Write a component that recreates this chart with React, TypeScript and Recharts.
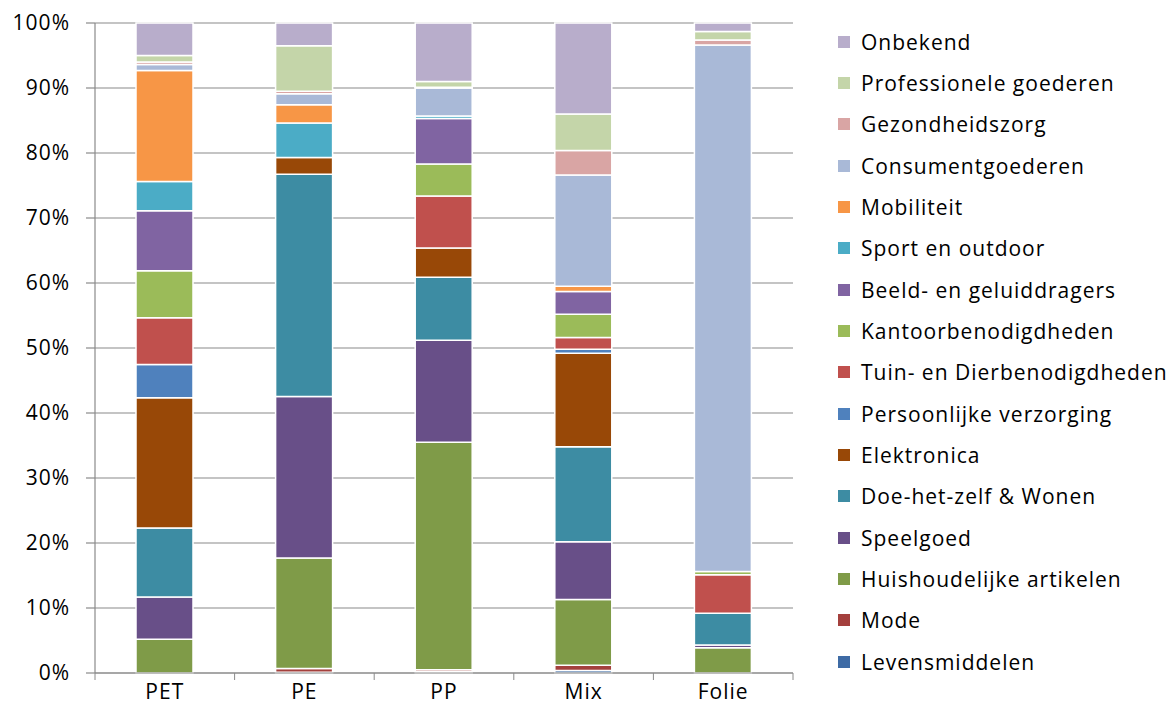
import React from 'react';
import { BarChart, Bar, XAxis, YAxis, CartesianGrid, Legend } from 'recharts';

// categories on the x axis
const categories = ['PET', 'PE', 'PP', 'Mix', 'Folie'];

// share per category (%), stacked bottom -> top
const levensmiddelen = [0, 0.1, 0.2, 0.4, 0];
const mode = [0, 0.6, 0.3, 0.8, 0];
const huishoudelijk = [5.2, 17.0, 35.0, 10.1, 3.9];
const speelgoed = [6.5, 24.85, 15.7, 8.9, 0.4];
const doeHetZelf = [10.6, 34.2, 9.7, 14.6, 4.9];
const elektronica = [20.05, 2.6, 4.5, 14.4, 0];
const persoonlijk = [5.1, 0, 0, 0.6, 0];
const tuinDier = [7.2, 0, 8.0, 1.8, 5.9];
const kantoor = [7.25, 0, 4.9, 3.6, 0.5];
const beeldGeluid = [9.2, 0, 7.0, 3.5, 0];
const sport = [4.5, 5.3, 0.4, 0, 0];
const mobiliteit = [17.1, 2.8, 0, 0.8, 0];
const consument = [0.9, 1.7, 4.3, 17.1, 81.0];
const gezondheid = [0.4, 0.4, 0.1, 3.8, 0.8];
const professioneel = [1.0, 7.0, 0.9, 5.6, 1.3];
const onbekend = [5.0, 3.5, 9.0, 14.0, 1.3];

const yTicks = [0, 0.1, 0.2, 0.3, 0.4, 0.5, 0.6, 0.7, 0.8, 0.9, 1];

const series = [
  { name: 'Levensmiddelen', values: levensmiddelen, color: '#3E6BA5' },
  { name: 'Mode', values: mode, color: '#A4403D' },
  { name: 'Huishoudelijke artikelen', values: huishoudelijk, color: '#7F9B48' },
  { name: 'Speelgoed', values: speelgoed, color: '#684F88' },
  { name: 'Doe-het-zelf & Wonen', values: doeHetZelf, color: '#3D8CA3' },
  { name: 'Elektronica', values: elektronica, color: '#984807' },
  { name: 'Persoonlijke verzorging', values: persoonlijk, color: '#4F81BD' },
  { name: 'Tuin- en Dierbenodigdheden', values: tuinDier, color: '#C0504D' },
  { name: 'Kantoorbenodigdheden', values: kantoor, color: '#9BBB59' },
  { name: 'Beeld- en geluiddragers', values: beeldGeluid, color: '#8064A2' },
  { name: 'Sport en outdoor', values: sport, color: '#4BACC6' },
  { name: 'Mobiliteit', values: mobiliteit, color: '#F79646' },
  { name: 'Consumentgoederen', values: consument, color: '#A9B9D7' },
  { name: 'Gezondheidszorg', values: gezondheid, color: '#D9A5A4' },
  { name: 'Professionele goederen', values: professioneel, color: '#C4D5A9' },
  { name: 'Onbekend', values: onbekend, color: '#B8ADCB' },
];

const data = categories.map((name, i) => {
  const row: Record<string, string | number> = { name };
  series.forEach((s) => {
    row[s.name] = s.values[i];
  });
  return row;
});

const W = 1173;
const H = 717;
const MARGIN = { top: 23, right: 380, bottom: 14, left: 10 };
const Y_WIDTH = 85;
const X_HEIGHT = 30;
const BAND = (W - MARGIN.left - Y_WIDTH - MARGIN.right) / categories.length;
const FONT = '"Open Sans", sans-serif';
const AXIS = '#8a8a8a';

const XTick = (props: any) => {
  const { x, y, payload, index } = props;
  const half = BAND / 2;
  return (
    <g>
      {index === 0 && <line x1={x - half} x2={x - half} y1={y} y2={y + 7} stroke={AXIS} />}
      <line x1={x + half} x2={x + half} y1={y} y2={y + 7} stroke={AXIS} />
      <text
        x={x}
        y={y + 11}
        dy="0.71em"
        textAnchor="middle"
        fill="#000"
        style={{ fontFamily: FONT, fontSize: 21, letterSpacing: 1 }}
      >
        {payload.value}
      </text>
    </g>
  );
};

const LegendBox = () => (
  <div style={{ fontFamily: FONT, fontSize: 21, letterSpacing: 1, color: '#000' }}>
    {[...series].reverse().map((s) => (
      <div key={s.name} style={{ height: 41.33, display: 'flex', alignItems: 'center', whiteSpace: 'nowrap' }}>
        <span style={{ width: 12, height: 12, background: s.color, display: 'inline-block', marginRight: 11 }} />
        <span>{s.name}</span>
      </div>
    ))}
  </div>
);

export default function App() {
  return (
    <div style={{ position: 'absolute', left: 0, top: 0, width: W, height: H, background: '#fff' }}>
      <BarChart width={W} height={H} data={data} stackOffset="expand" margin={MARGIN}>
        <CartesianGrid vertical={false} stroke={AXIS} strokeWidth={1.2} />
        <XAxis
          dataKey="name"
          height={X_HEIGHT}
          axisLine={{ stroke: AXIS, strokeWidth: 1.2 }}
          tickLine={false}
          tickSize={0}
          tickMargin={0}
          tick={<XTick />}
          interval={0}
        />
        <YAxis
          width={Y_WIDTH}
          domain={[0, 1]}
          ticks={yTicks}
          tickFormatter={(v: number) => `${Math.round(v * 100)}%`}
          axisLine={{ stroke: AXIS, strokeWidth: 1.2 }}
          tickLine={{ stroke: AXIS, strokeWidth: 1.2 }}
          tickSize={9}
          tickMargin={16}
          tick={{ fill: '#000', fontFamily: FONT, fontSize: 21, letterSpacing: 1 }}
        />
        <Legend
          layout="vertical"
          align="center"
          verticalAlign="middle"
          content={<LegendBox />}
          wrapperStyle={{ left: 838, top: 21, width: 335 }}
        />
        {series.map((s) => (
          <Bar
            key={s.name}
            dataKey={s.name}
            stackId="a"
            fill={s.color}
            stroke="#fff"
            strokeWidth={1.5}
            barSize={57}
            isAnimationActive={false}
          />
        ))}
      </BarChart>
    </div>
  );
}
